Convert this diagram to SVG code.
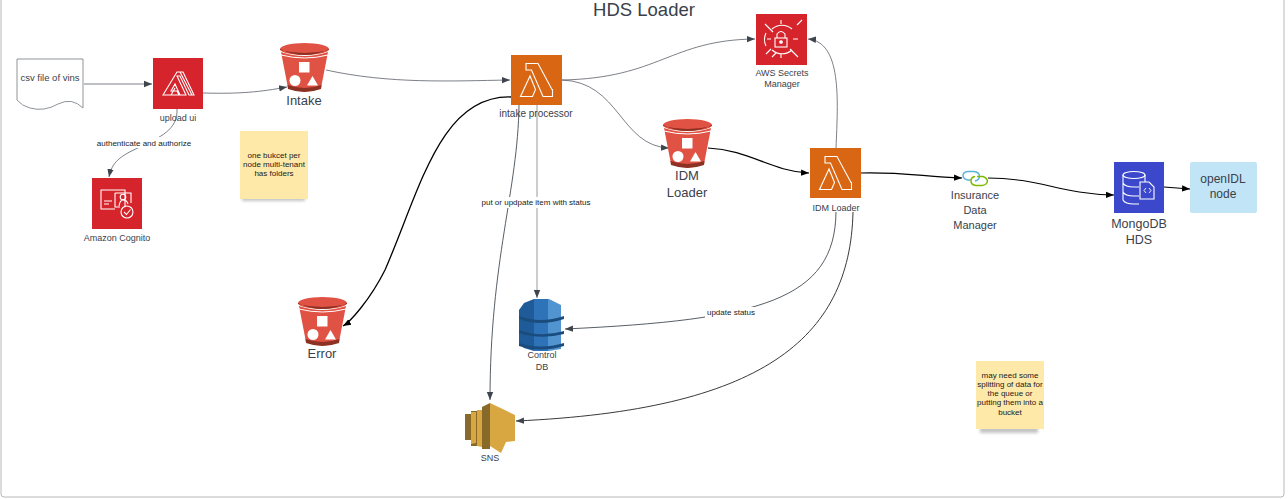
<svg xmlns="http://www.w3.org/2000/svg" xmlns:xlink="http://www.w3.org/1999/xlink" width="1288" height="499" viewBox="0 0 1288 499">
<style>
text{font-family:"Liberation Sans",Arial,sans-serif;fill:#3a414a;text-anchor:middle}
.s{font-size:9px}.m{font-size:11px}.l{font-size:13px}
.n{font-size:8px;fill:#1a1a1a}
.c{fill:none;stroke:#5a6068;stroke-width:.8}
.k{fill:none;stroke:#000;stroke-width:1.1}
.g{fill:none;stroke:#8a8f94;stroke-width:.9}
.w{fill:none;stroke:#fff;stroke-width:1.1}
</style>
<defs>
<marker id="a" markerUnits="userSpaceOnUse" markerWidth="9" markerHeight="8" refX="8" refY="4" orient="auto"><path d="M0 .8L8 4L0 7.2z" fill="#3f454d"/></marker>
<marker id="b" markerUnits="userSpaceOnUse" markerWidth="9" markerHeight="8" refX="8" refY="4" orient="auto"><path d="M0 .8L8 4L0 7.2z" fill="#000"/></marker>
<symbol id="bucket" width="49" height="51" viewBox="0 0 49 51" overflow="visible">
<path d="M1 9L8 45Q24.500 52 41 45L48 9Q24.500 17 1 9z" fill="#e05243"/>
<path d="M7.500 42L8 46Q24.500 52 41 46L41.500 42Q24.500 48 7.500 42z" fill="#8c3123"/>
<ellipse cx="24.500" cy="6" rx="24.500" ry="6" fill="#e05243"/>
<path d="M0 6Q24.500 18 49 6L49 7Q24.500 13 0 7z" fill="#8c3123"/>
<path d="M1 12Q24.500 18 48 12" fill="none" stroke="#fff" stroke-width="1"/>
<rect x="19" y="19" width="10.500" height="10.500" fill="#fff"/>
<circle cx="15" cy="37.500" r="5.500" fill="#fff"/>
<path d="M27 42.500L32.500 33L38 42.500z" fill="#fff"/>
</symbol>
<symbol id="lambda" width="51" height="50" viewBox="0 0 51 50" overflow="visible">
<rect width="51" height="50" fill="#d86613"/>
<path class="w" d="M15 8.500H27L41 34.500H41.500V41.500H32L20.500 15H15zM19 21L9.500 41.500H21.500L24.500 34.500z" />
</symbol>
</defs>
<rect id="frame" x="1" y="-4" width="1283" height="501" rx="3" fill="#fff" stroke="#b5b8bb" stroke-width="1"/>
<text x="644" y="16" font-size="18" style="font-size:18.500px">HDS Loader</text>

<g id="connectors">
<path class="c" d="M84 84H152" marker-end="url(#a)"/>
<path class="c" d="M203 93C240 94 260 92 287 87" marker-end="url(#a)"/>
<path class="c" d="M177 109C178 130 160 137 140 147C120 156 112 162 109 177" marker-end="url(#a)"/>
<path class="c" d="M326 70C390 84 450 81 510 80" marker-end="url(#a)"/>
<path class="c" d="M562 80C660 78 670 40 755 39" marker-end="url(#a)"/>
<path class="c" d="M562 80C620 82 620 146 669 148" marker-end="url(#a)"/>
<path class="k" d="M708 148C750 150 770 171 809 173" marker-end="url(#b)"/>
<path class="c" d="M836 148C838 100 842 42 808 39" marker-end="url(#a)"/>
<path class="k" d="M861 173C900 172 920 176 962 178" marker-end="url(#b)"/>
<path class="k" d="M988 178C1040 178 1060 194 1114 195" marker-end="url(#b)"/>
<path class="k" d="M1164 187L1190 189" marker-end="url(#b)"/>
<path class="k" d="M511 97C440 95 420 190 385 270C370 300 350 322 343 326" marker-end="url(#b)" style="stroke-width:1.300"/>
<path class="k" d="M519 105C518 190 490 260 490 400" marker-end="url(#a)" style="stroke:#444c54;stroke-width:.9"/>
<path class="g" d="M537 105V298" marker-end="url(#a)"/>
<path class="k" d="M836 212C835 300 760 320 565 329" marker-end="url(#a)" style="stroke:#444c54;stroke-width:.9"/>
<path class="k" d="M853 212C850 340 760 410 516 421" marker-end="url(#a)" style="stroke:#222;stroke-width:.9"/>
</g>

<g id="csv">
<path d="M17 59H83V108Q72 97 58 104Q44 112 30 108Q22 106 17 100z" fill="#fff" stroke="#8f949a" stroke-width="1"/>
<text class="s" x="50" y="81" style="font-size:9.500px">csv file of vins</text>
</g>

<g id="upload-ui">
<rect x="153" y="58" width="50" height="51" fill="#d6242d"/>
<path class="w" d="M163 95L177 72H183L194 95H189L180 76H177L186 95H180L175 84L171 91H177L179 95zM171 95L175 88M180 72L192 95"/>
<text class="s" x="178" y="121">upload ui</text>
</g>

<g id="cognito">
<rect x="92" y="178" width="50" height="51" fill="#d6242d"/>
<path class="w" d="M125 207V190H101V209H115"/>
<path class="w" d="M115 193H131V203M115 193V207H120M119 206Q120 200 123 200Q127 200 128 204"/>
<circle class="w" cx="123" cy="197" r="2.800"/>
<path class="w" d="M104 201H112M104 204H109"/>
<circle class="w" cx="127" cy="212" r="6"/>
<path class="w" d="M124 212L126.500 214.500L130.500 209.500"/>
<text class="s" x="117" y="241">Amazon Cognito</text>
</g>

<g id="intake"><use href="#bucket" x="280" y="43"/><text class="l" x="304" y="105">Intake</text></g>

<g id="note-1">
<rect x="242" y="136" width="63" height="65" fill="#8a8a8a" opacity=".5" style="filter:blur(1.500px)"/>
<rect x="240" y="131" width="68" height="68" fill="#ffe9a8"/>
<text class="n" x="274" y="158">one bukcet per</text>
<text class="n" x="274" y="167">node multi-tenant</text>
<text class="n" x="274" y="176">has folders</text>
</g>

<g id="intake-processor"><use href="#lambda" x="511" y="55"/><text class="s" x="536" y="117" style="font-size:10px">intake processor</text></g>

<g id="secrets">
<rect x="756" y="14" width="51" height="51" fill="#d6242d"/>
<g class="w" fill="none" stroke="#fff" stroke-width="1">
<path d="M766 54L771 49M797 25L802 20M765 24L773 32M790 49L798 57M781 24V20M781 58V54M767 39H771M793 39H798M776 53L772 57" fill="none" stroke="#fff"/>
<path d="M772 29A15 15 0 0 1 792 29M772 50A15 15 0 0 0 792 50M766 33A15 15 0 0 0 766 46" fill="none" stroke="#fff"/>
<rect x="775" y="38" width="12" height="9" fill="none" stroke="#fff"/>
<path d="M777 38V34Q781 29 785 34V38" fill="none" stroke="#fff"/>
<circle cx="781" cy="42" r="1.300" fill="#fff"/>
</g>
<text class="s" x="782" y="76">AWS Secrets</text><text class="s" x="782" y="87">Manager</text>
</g>

<g id="idm-bucket"><use href="#bucket" x="663" y="119"/><text class="l" x="687" y="180">IDM</text><text class="l" x="687" y="197">Loader</text></g>

<g id="idm-loader"><use href="#lambda" x="810" y="148"/><text class="s" x="836" y="211">IDM Loader</text></g>

<g id="insurance">
<path d="M972 174Q965 170 966 174Q962 170 970 171L975 171Q981 172 979 176" fill="none" stroke="#5fb8e8" stroke-width="0"/>
<path d="M971 180H968Q963 179 963 175.500Q963 172 968 171.500H974Q979 172 979.500 176Q979.500 180 975 181" fill="none" stroke="#59b4d9" stroke-width="1.500"/>
<path d="M977 176.500H983Q987 178 987.500 181Q987 185 982 185.500H976Q971 185 971 181Q971 177 975 176.500" fill="none" stroke="#7fba00" stroke-width="1.500"/>
<text class="m" x="975" y="199">Insurance</text><text class="m" x="975" y="214">Data</text><text class="m" x="975" y="229">Manager</text>
</g>

<g id="mongodb">
<rect x="1114" y="162" width="50" height="51" fill="#3b48cc"/>
<ellipse class="w" cx="1134" cy="175" rx="11" ry="3.500"/>
<path class="w" d="M1123 175V200Q1125 204 1134 204H1139M1123 183Q1125 187 1134 187H1139M1123 192Q1125 196 1134 196H1139M1145 175V182"/>
<path class="w" d="M1140 182H1149L1154 187V199H1140z"/>
<path d="M1146 188L1144 190.500L1146 193M1149 188L1151 190.500L1149 193" fill="none" stroke="#fff" stroke-width=".9"/>
<text class="l" x="1139" y="228" style="font-size:12.500px">MongoDB</text><text class="l" x="1139" y="244" style="font-size:12.500px">HDS</text>
</g>

<g id="openidl">
<rect x="1190" y="162" width="67" height="51" rx="2" fill="#c1e4f7"/>
<text class="l" x="1223" y="183" style="font-size:12px">openIDL</text><text class="l" x="1223" y="198" style="font-size:12px">node</text>
</g>

<g id="error"><use href="#bucket" x="298" y="297"/><text class="l" x="322" y="358">Error</text></g>

<g id="control-db">
<path d="M540 299H549L561 305V349L549 351H540Z" fill="#5294cf"/>
<path d="M534 299H548V351H534Z" fill="#2e73b8"/>
<path d="M534 299L524 303L519 310V344L524 348L534 351Z" fill="#205b99"/>
<path d="M519 316Q540 324 564 316L564 319Q540 327 519 319zM519 330Q540 338 564 331L564 334Q540 340 519 333zM519 343Q540 350 564 343L564 346Q540 353 519 346z" fill="#1a4d7e"/>
<path d="M519 312L523 309V355M561 306L565 310V347L561 350" fill="none"/>
<text class="s" x="542" y="358">Control</text><text class="s" x="542" y="370">DB</text>
</g>

<g id="sns">
<path d="M465 414H471V440H465zM471 411H481V446H471zM482 407H490V449H482z" fill="#876929"/>
<path d="M471 412H476V443L471 444zM477 410H482V447L477 446z" fill="#d9a741"/>
<path d="M490 403L515 415V441L506 442L501 453L490 446z" fill="#d9a741"/>
<path d="M482 407L490 403V446L482 447z" fill="#876929"/>
<text class="s" x="490" y="461">SNS</text>
</g>

<g id="note-2">
<rect x="980" y="395" width="58" height="38" fill="#8a8a8a" opacity=".5" style="filter:blur(1.500px)"/>
<rect x="976" y="361" width="68" height="68" fill="#ffe9a8"/>
<text class="n" x="1010" y="378">may need some</text>
<text class="n" x="1010" y="387">splitting of data for</text>
<text class="n" x="1010" y="396">the queue or</text>
<text class="n" x="1010" y="405">putting them into a</text>
<text class="n" x="1010" y="415">bucket</text>
</g>

<g id="labels">
<rect x="95" y="137" width="97" height="11" fill="#fff"/>
<text class="n" x="144" y="146">authenticate and authorize</text>
<rect x="480" y="197" width="112" height="11" fill="#fff"/>
<text class="n" x="536" y="205">put or updpate item with status</text>
<rect x="705" y="307" width="52" height="11" fill="#fff"/>
<text class="n" x="731" y="315">update status</text>
</g>
</svg>
